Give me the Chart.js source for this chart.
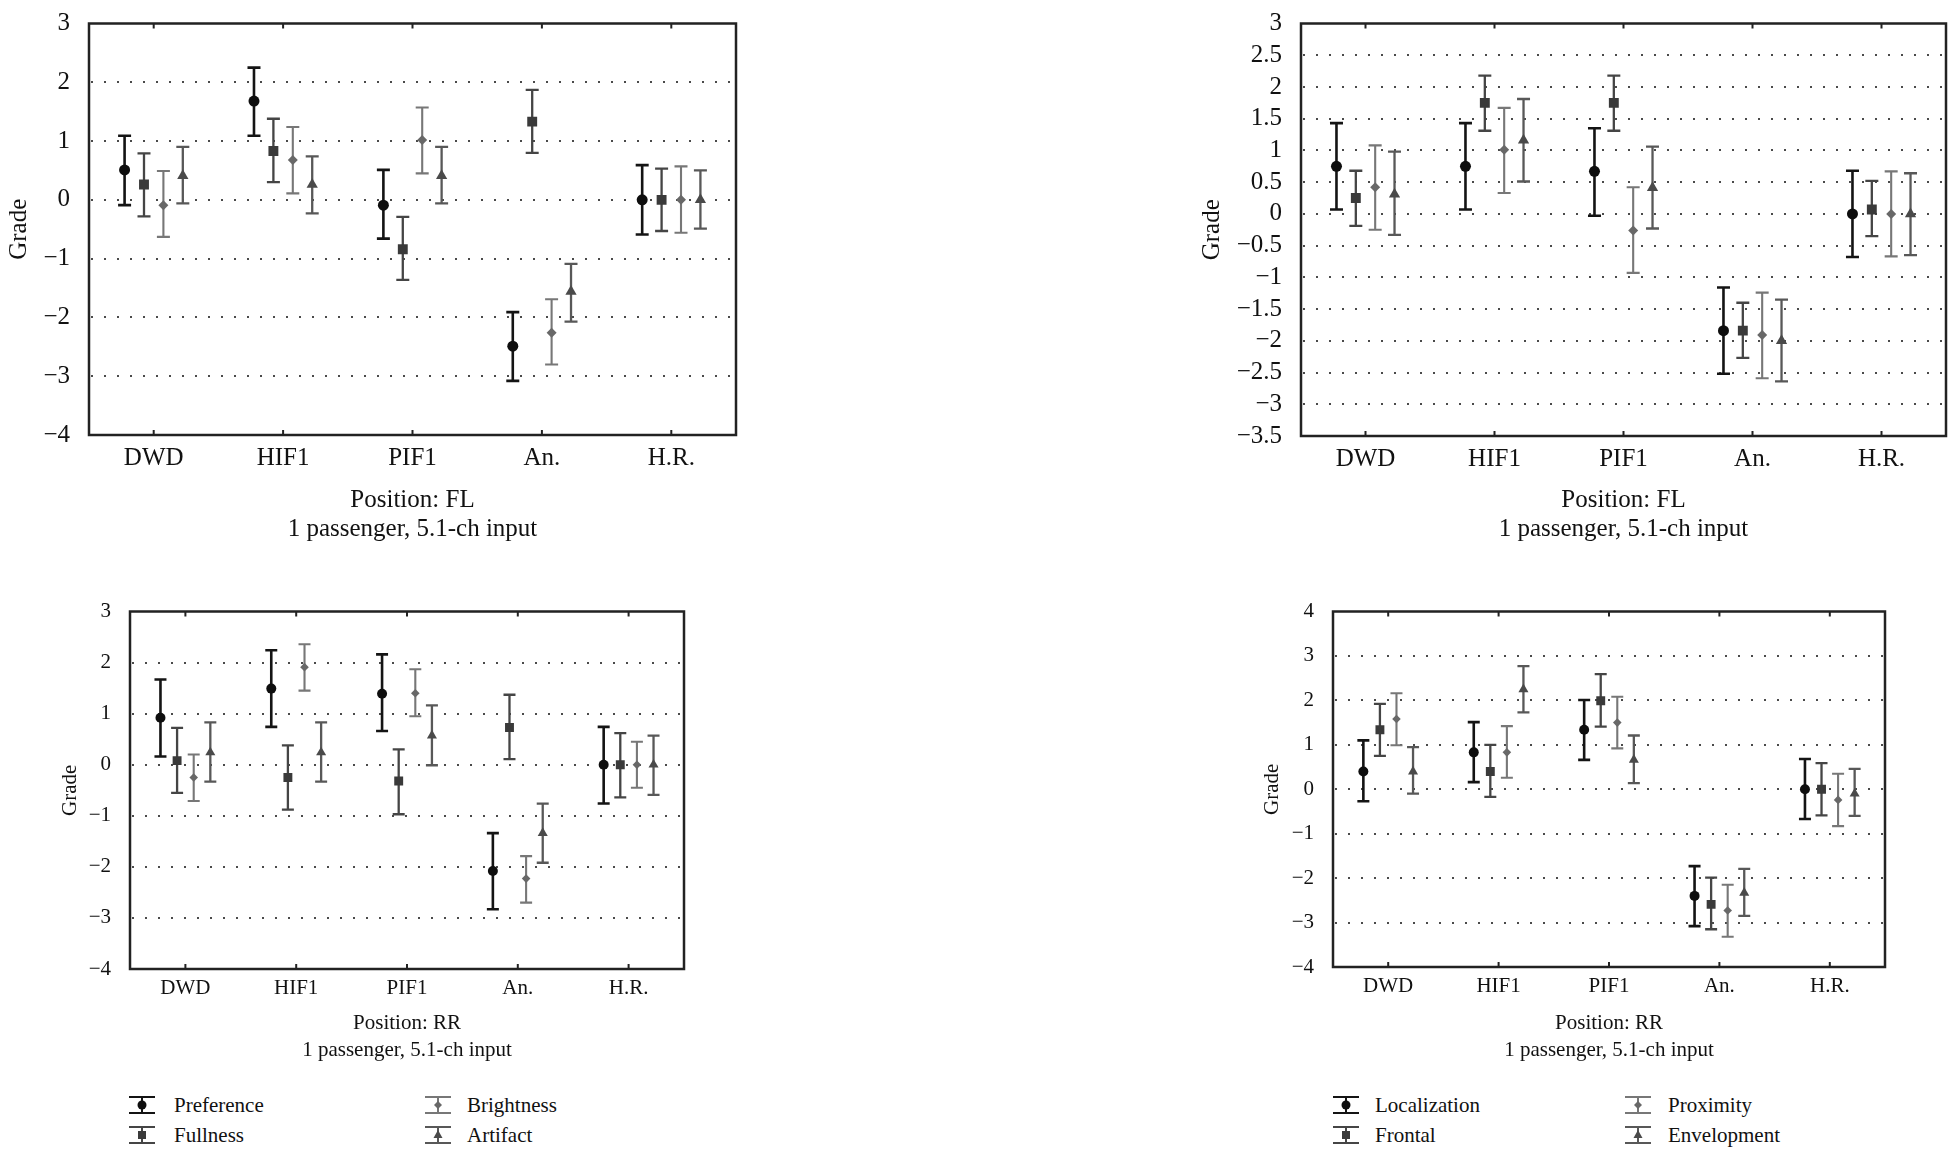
<!DOCTYPE html>
<html>
<head>
<meta charset="utf-8">
<script src="https://cdn.jsdelivr.net/npm/chart.js@4.4.0/dist/chart.umd.min.js"></script>
<style>
body{margin:0;background:#fff;width:1957px;height:1151px;position:relative;overflow:hidden;font-family:"Liberation Serif",serif;color:#111}
.panel{position:absolute}
.leg{position:absolute;height:24px;line-height:24px;font-size:21px;white-space:nowrap}
.leg svg{position:absolute;top:3px}
</style>
</head>
<body>
<div class="panel" style="left:0px;top:0px"><canvas id="flLeft" width="760" height="550"></canvas></div>
<div class="panel" style="left:1190px;top:0px"><canvas id="flRight" width="767" height="550"></canvas></div>
<div class="panel" style="left:40px;top:590px"><canvas id="rrLeft" width="720" height="480"></canvas></div>
<div class="panel" style="left:1240px;top:590px"><canvas id="rrRight" width="717" height="480"></canvas></div>
<div id="legends"></div>
<script>
// categories and series names
const categories = ['DWD','HIF1','PIF1','An.','H.R.'];
const seriesLeft = ['Preference','Fullness','Brightness','Artifact'];
const seriesRight = ['Localization','Frontal','Proximity','Envelopment'];
const titlesFL = ['Position: FL','1 passenger, 5.1-ch input'];
const titlesRR = ['Position: RR','1 passenger, 5.1-ch input'];

// y tick labels per panel
const ticksFlLeft = [3,2,1,0,-1,-2,-3,-4];
const ticksFlRight = [3,2.5,2,1.5,1,0.5,0,-0.5,-1,-1.5,-2,-2.5,-3,-3.5];
const ticksRrLeft = [3,2,1,0,-1,-2,-3,-4];
const ticksRrRight = [4,3,2,1,0,-1,-2,-3,-4];

// values per category: [low, mean, high]
const flPreference = [[-0.09,0.51,1.09],[1.09,1.68,2.25],[-0.66,-0.09,0.51],[-3.08,-2.49,-1.91],[-0.59,0,0.59]];
const flFullness = [[-0.28,0.26,0.79],[0.30,0.83,1.38],[-1.36,-0.84,-0.29],[0.80,1.33,1.87],[-0.53,0,0.53]];
const flBrightness = [[-0.63,-0.09,0.49],[0.11,0.68,1.24],[0.45,1.02,1.57],[-2.80,-2.26,-1.69],[-0.56,0,0.57]];
const flArtifact = [[-0.06,0.41,0.90],[-0.23,0.26,0.74],[-0.06,0.41,0.90],[-2.07,-1.56,-1.09],[-0.49,0,0.50]];

const flLocalization = [[0.07,0.75,1.43],[0.07,0.75,1.43],[-0.03,0.67,1.35],[-2.52,-1.84,-1.16],[-0.68,0,0.68]];
const flFrontal = [[-0.19,0.25,0.68],[1.31,1.75,2.18],[1.31,1.75,2.18],[-2.27,-1.84,-1.40],[-0.35,0.07,0.52]];
const flProximity = [[-0.25,0.42,1.08],[0.33,1.01,1.67],[-0.93,-0.26,0.42],[-2.59,-1.91,-1.24],[-0.67,0,0.67]];
const flEnvelopment = [[-0.33,0.31,0.98],[0.51,1.16,1.81],[-0.23,0.41,1.06],[-2.64,-2.00,-1.35],[-0.65,0,0.64]];

const rrPreference = [[0.16,0.92,1.67],[0.74,1.49,2.24],[0.66,1.39,2.16],[-2.83,-2.08,-1.34],[-0.76,0,0.74]];
const rrFullness = [[-0.55,0.08,0.72],[-0.88,-0.25,0.38],[-0.97,-0.32,0.30],[0.11,0.73,1.37],[-0.64,0,0.62]];
const rrBrightness = [[-0.71,-0.25,0.20],[1.45,1.91,2.36],[0.95,1.40,1.87],[-2.70,-2.23,-1.79],[-0.45,0,0.45]];
const rrArtifact = [[-0.33,0.24,0.83],[-0.33,0.24,0.83],[-0.01,0.57,1.16],[-1.92,-1.34,-0.76],[-0.59,0,0.57]];

const rrLocalization = [[-0.27,0.40,1.10],[0.16,0.83,1.51],[0.66,1.34,2.01],[-3.08,-2.40,-1.73],[-0.67,0,0.68]];
const rrFrontal = [[0.75,1.34,1.92],[-0.17,0.40,1.00],[1.41,1.99,2.59],[-3.15,-2.59,-1.99],[-0.59,0,0.59]];
const rrProximity = [[0.99,1.58,2.16],[0.26,0.83,1.42],[0.92,1.50,2.08],[-3.32,-2.73,-2.15],[-0.83,-0.24,0.35]];
const rrEnvelopment = [[-0.10,0.40,0.95],[1.73,2.25,2.77],[0.14,0.66,1.21],[-2.85,-2.33,-1.79],[-0.60,-0.10,0.46]];

// look
const FONT = '"Liberation Serif", "Times New Roman", serif';
const TEXT = '#111';
const markerShapes = ['circle','rect','rectRot','triangle'];
const markerColors = ['#0e0e0e','#3a3a3a','#686868','#4a4a4a'];
const barColors = ['#141414','#454545','#777','#585858'];
const barWidths = [2.6,2.3,2.1,2.3];
const offsets = [-0.225,-0.075,0.075,0.225];

const framePlugin = {
  id:'frame',
  beforeDatasetsDraw(chart){
    const {ctx, chartArea:a, scales:{x, y}} = chart;
    const cap = chart.options.capHalf;
    ctx.save();
    // dotted grid
    ctx.strokeStyle = '#4a4a4a'; ctx.lineWidth = 2; ctx.setLineDash([2,11]);
    y.ticks.forEach(t=>{
      if(t.value<=y.min || t.value>=y.max) return;
      const py = Math.round(y.getPixelForValue(t.value));
      ctx.beginPath(); ctx.moveTo(a.left+2, py); ctx.lineTo(a.right, py); ctx.stroke();
    });
    ctx.setLineDash([]);
    // error bars
    chart.data.datasets.forEach(ds=>{
      ctx.strokeStyle = ds.barColor; ctx.lineWidth = ds.barWidth;
      ds.data.forEach(p=>{
        const px = x.getPixelForValue(p.x), lo = y.getPixelForValue(p.lo), hi = y.getPixelForValue(p.hi);
        ctx.beginPath();
        ctx.moveTo(px, lo); ctx.lineTo(px, hi);
        ctx.moveTo(px-cap, lo); ctx.lineTo(px+cap, lo);
        ctx.moveTo(px-cap, hi); ctx.lineTo(px+cap, hi);
        ctx.stroke();
      });
    });
    ctx.restore();
  },
  afterDatasetsDraw(chart){
    const {ctx, chartArea:a, scales:{x}} = chart;
    ctx.save();
    ctx.strokeStyle = '#222'; ctx.lineWidth = 2.5;
    ctx.strokeRect(a.left, a.top, a.right-a.left, a.bottom-a.top);
    ctx.lineWidth = 2;
    categories.forEach((c,i)=>{
      const px = x.getPixelForValue(i);
      ctx.beginPath();
      ctx.moveTo(px, a.top); ctx.lineTo(px, a.top+5);
      ctx.moveTo(px, a.bottom); ctx.lineTo(px, a.bottom-5);
      ctx.stroke();
    });
    ctx.restore();
  }
};

function makePanel(id, p){
  const cv = document.getElementById(id);
  const w = cv.width, h = cv.height;
  const [l, t, r, b] = p.area;
  const datasets = p.series.map((vals, s)=>({
    label: p.names[s],
    data: vals.map((v,i)=>({x: i+offsets[s], y: v[1], lo: v[0], hi: v[2]})),
    pointStyle: markerShapes[s],
    pointRadius: p.radii[s],
    backgroundColor: markerColors[s],
    borderColor: markerColors[s],
    borderWidth: 0,
    showLine: false,
    barColor: barColors[s],
    barWidth: barWidths[s]
  }));
  return new Chart(cv, {
    type:'scatter',
    data:{datasets},
    plugins:[framePlugin],
    options:{
      responsive:false, animation:false, events:[],
      capHalf: p.cap,
      layout:{autoPadding:false, padding:{left:0, top:t, right:w-r, bottom:0}},
      plugins:{legend:{display:false}, tooltip:{enabled:false}},
      scales:{
        x:{
          type:'linear', min:-0.5, max:4.5,
          grid:{display:false}, border:{display:false},
          afterBuildTicks: ax=>{ ax.ticks = categories.map((c,i)=>({value:i})); },
          afterFit: ax=>{ ax.height = h-b; },
          ticks:{autoSkip:false, maxRotation:0, padding:p.labelPad, color:TEXT,
            font:{family:FONT, size:p.size, lineHeight:1}, callback: v=>categories[v]},
          title:{display:true, text:p.titles, color:TEXT,
            font:{family:FONT, size:p.size, lineHeight:p.titleLH/p.size},
            padding:{top:0, bottom:p.titlePad}}
        },
        y:{
          type:'linear', min:Math.min(...p.ticks), max:Math.max(...p.ticks),
          grid:{display:false}, border:{display:false},
          afterBuildTicks: ax=>{ ax.ticks = p.ticks.map(v=>({value:v})); },
          afterFit: ax=>{ ax.width = l; },
          ticks:{padding:11, color:TEXT, font:{family:FONT, size:p.size, lineHeight:1},
            callback: v=>String(v).replace('-','\u2212')},
          title:{display:true, text:'Grade', color:TEXT,
            font:{family:FONT, size:p.size, lineHeight:1},
            padding:{top:p.gradeX-p.size/2, bottom:0}}
        }
      }
    }
  });
}

makePanel('flLeft', {area:[89,15,736,435], ticks:ticksFlLeft, titles:titlesFL, names:seriesLeft,
  series:[flPreference, flFullness, flBrightness, flArtifact],
  size:25, labelPad:3, titleLH:29, titlePad:6, gradeX:19.5, radii:[5.5,7,5,6.5], cap:6.5});
makePanel('flRight', {area:[111,15,756,436], ticks:ticksFlRight, titles:titlesFL, names:seriesRight,
  series:[flLocalization, flFrontal, flProximity, flEnvelopment],
  size:25, labelPad:3, titleLH:29, titlePad:6, gradeX:22, radii:[5.5,7,5,6.5], cap:6.5});
makePanel('rrLeft', {area:[90,21,644,379], ticks:ticksRrLeft, titles:titlesRR, names:seriesLeft,
  series:[rrPreference, rrFullness, rrBrightness, rrArtifact],
  size:21, labelPad:1, titleLH:27, titlePad:6, gradeX:30, radii:[5,6.3,4.3,5.8], cap:6});
makePanel('rrRight', {area:[93,21,645,377], ticks:ticksRrRight, titles:titlesRR, names:seriesRight,
  series:[rrLocalization, rrFrontal, rrProximity, rrEnvelopment],
  size:21, labelPad:1, titleLH:27, titlePad:6, gradeX:32, radii:[5,6.3,4.3,5.8], cap:6});

// legends under the bottom panels
function markerSvg(s){
  const c = markerColors[s];
  if(s===0) return `<circle cx="14" cy="9" r="4.5" fill="${c}"/>`;
  if(s===1) return `<rect x="10" y="5" width="8" height="8" fill="${c}"/>`;
  if(s===2) return `<polygon points="14,5 18,9 14,13 10,9" fill="${c}"/>`;
  return `<polygon points="14,4 18.5,12 9.5,12" fill="${c}"/>`;
}
function addLegend(names, cols, rows){
  const box = document.getElementById('legends');
  names.forEach((n,s)=>{
    const col = cols[Math.floor(s/2)], y = rows[s%2];
    const d = document.createElement('div');
    d.className = 'leg';
    d.style.left = (col[0]-14)+'px';
    d.style.top = (y-12)+'px';
    const bc = barColors[s];
    d.innerHTML = `<svg width="28" height="18" viewBox="0 0 28 18">
      <line x1="1" y1="1" x2="27" y2="1" stroke="${bc}" stroke-width="2"/>
      <line x1="1" y1="17" x2="27" y2="17" stroke="${bc}" stroke-width="2"/>
      <line x1="14" y1="1" x2="14" y2="17" stroke="${bc}" stroke-width="2"/>
      ${markerSvg(s)}</svg><span style="position:absolute;left:${col[1]-col[0]+14}px">${n}</span>`;
    box.appendChild(d);
  });
}
addLegend(seriesLeft, [[142,174],[438,467]], [1105,1135]);
addLegend(seriesRight, [[1346,1375],[1638,1668]], [1105,1135]);
</script>
</body>
</html>
